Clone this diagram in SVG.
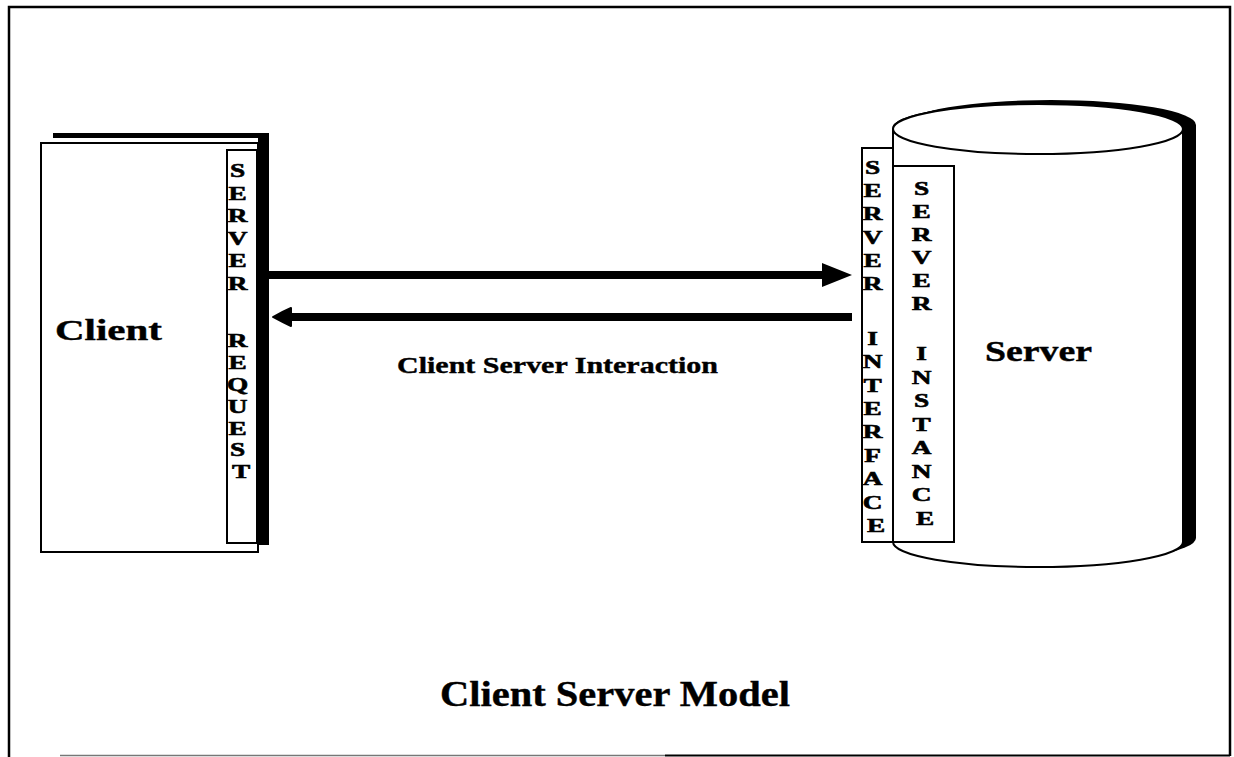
<svg xmlns="http://www.w3.org/2000/svg" width="1234" height="757" viewBox="0 0 1234 757">
  <style>
    .outline { fill: #fff; stroke: #000; stroke-width: 2; }
    .shadow { fill: #000; stroke: none; }
    .label { font-family: "Liberation Serif", "Times New Roman", serif; font-weight: bold; fill: #000; stroke: #000; stroke-width: 0.4; }
    .strip-text { font-family: "Liberation Serif", "Times New Roman", serif; font-weight: bold; font-size: 19.5px; fill: #000; stroke: #000; stroke-width: 0.6; text-anchor: middle; }
    .link { stroke: #000; stroke-width: 8; fill: none; }
  </style>
  <defs>
    <marker id="head-big" markerUnits="userSpaceOnUse" markerWidth="32" markerHeight="28" refX="4" refY="13" orient="auto">
      <path d="M0,1 L30,13 L0,25 Z" fill="#000"/>
    </marker>
    <marker id="head-small" markerUnits="userSpaceOnUse" markerWidth="24" markerHeight="24" refX="3" refY="11" orient="auto">
      <path d="M1,2 Q10,6 19,11 Q10,16 1,20 Z" fill="#000" stroke="#000" stroke-width="2" stroke-linejoin="round"/>
    </marker>
  </defs>

  <rect width="1234" height="757" fill="#fff"/>

  <!-- page frame -->
  <g id="frame" fill="none" stroke="#000">
    <polyline points="9,757 9,7 1230,7 1230,756" stroke-width="2.5"/>
    <line x1="60" y1="755.5" x2="665" y2="755.5" stroke="#777" stroke-width="1.5"/>
    <line x1="665" y1="755.5" x2="1230" y2="755.5" stroke-width="2"/>
  </g>

  <!-- client page with drop shadow -->
  <g id="client">
    <rect class="shadow" x="53" y="133" width="216" height="5"/>
    <rect class="shadow" x="258" y="133" width="11" height="412"/>
    <rect class="outline" x="41" y="143" width="217" height="409"/>
    <text class="label" x="55" y="340" font-size="30" textLength="107" lengthAdjust="spacingAndGlyphs">Client</text>
  </g>

  <!-- request strip on the client's edge -->
  <g id="server-request">
    <rect class="outline" x="227" y="150" width="30" height="393"/>
    <g transform="translate(241,0) scale(1.4,1)">
      <text class="strip-text">
        <tspan x="0" y="177">S</tspan>
        <tspan x="0" y="200">E</tspan>
        <tspan x="0" y="222">R</tspan>
        <tspan x="0" y="245">V</tspan>
        <tspan x="0" y="267">E</tspan>
        <tspan x="0" y="290">R</tspan>
        <tspan x="0" y="347">R</tspan>
        <tspan x="0" y="369">E</tspan>
        <tspan x="0" y="391">Q</tspan>
        <tspan x="0" y="413">U</tspan>
        <tspan x="0" y="435">E</tspan>
        <tspan x="0" y="456">S</tspan>
        <tspan x="0" y="478">T</tspan>
      </text>
    </g>
  </g>

  <!-- server cylinder with drop shadow -->
  <g id="server">
    <path class="shadow" transform="translate(13,-4)" d="M893,129 L893,542 A145,25 0 0 0 1183,542 L1183,129 A145,25 0 0 0 893,129 Z"/>
    <path class="outline" d="M893,129 L893,542 A145,25 0 0 0 1183,542 L1183,129 A145,25 0 0 0 893,129 Z"/>
    <ellipse class="outline" cx="1038" cy="129" rx="145" ry="25"/>
    <text class="label" x="985" y="361" font-size="30" textLength="107" lengthAdjust="spacingAndGlyphs">Server</text>
  </g>

  <g id="server-interface">
    <rect class="outline" x="862" y="148" width="31" height="394"/>
    <g transform="translate(876,0) scale(1.4,1)">
      <text class="strip-text">
        <tspan x="0" y="174">S</tspan>
        <tspan x="0" y="197">E</tspan>
        <tspan x="0" y="220">R</tspan>
        <tspan x="0" y="244">V</tspan>
        <tspan x="0" y="267">E</tspan>
        <tspan x="0" y="290">R</tspan>
        <tspan x="0" y="345">I</tspan>
        <tspan x="0" y="368">N</tspan>
        <tspan x="0" y="392">T</tspan>
        <tspan x="0" y="415">E</tspan>
        <tspan x="0" y="438">R</tspan>
        <tspan x="0" y="462">F</tspan>
        <tspan x="0" y="485">A</tspan>
        <tspan x="0" y="509">C</tspan>
        <tspan x="0" y="532">E</tspan>
      </text>
    </g>
  </g>

  <g id="server-instance">
    <rect class="outline" x="893" y="166" width="61" height="376"/>
    <g transform="translate(925,0) scale(1.4,1)">
      <text class="strip-text">
        <tspan x="0" y="195">S</tspan>
        <tspan x="0" y="218">E</tspan>
        <tspan x="0" y="241">R</tspan>
        <tspan x="0" y="264">V</tspan>
        <tspan x="0" y="287">E</tspan>
        <tspan x="0" y="310">R</tspan>
        <tspan x="0" y="360">I</tspan>
        <tspan x="0" y="384">N</tspan>
        <tspan x="0" y="407">S</tspan>
        <tspan x="0" y="431">T</tspan>
        <tspan x="0" y="454">A</tspan>
        <tspan x="0" y="478">N</tspan>
        <tspan x="0" y="501">C</tspan>
        <tspan x="0" y="525">E</tspan>
      </text>
    </g>
  </g>

  <!-- request / response connectors -->
  <g id="connectors">
    <line class="link" x1="269" y1="275" x2="826" y2="275" marker-end="url(#head-big)"/>
    <line class="link" x1="852" y1="317" x2="289" y2="317" marker-end="url(#head-small)"/>
    <text class="label" x="397" y="373" font-size="24" textLength="321" lengthAdjust="spacingAndGlyphs">Client Server Interaction</text>
  </g>

  <g id="caption">
    <text class="label" x="440" y="706" font-size="36" textLength="350" lengthAdjust="spacingAndGlyphs">Client Server Model</text>
  </g>
</svg>
